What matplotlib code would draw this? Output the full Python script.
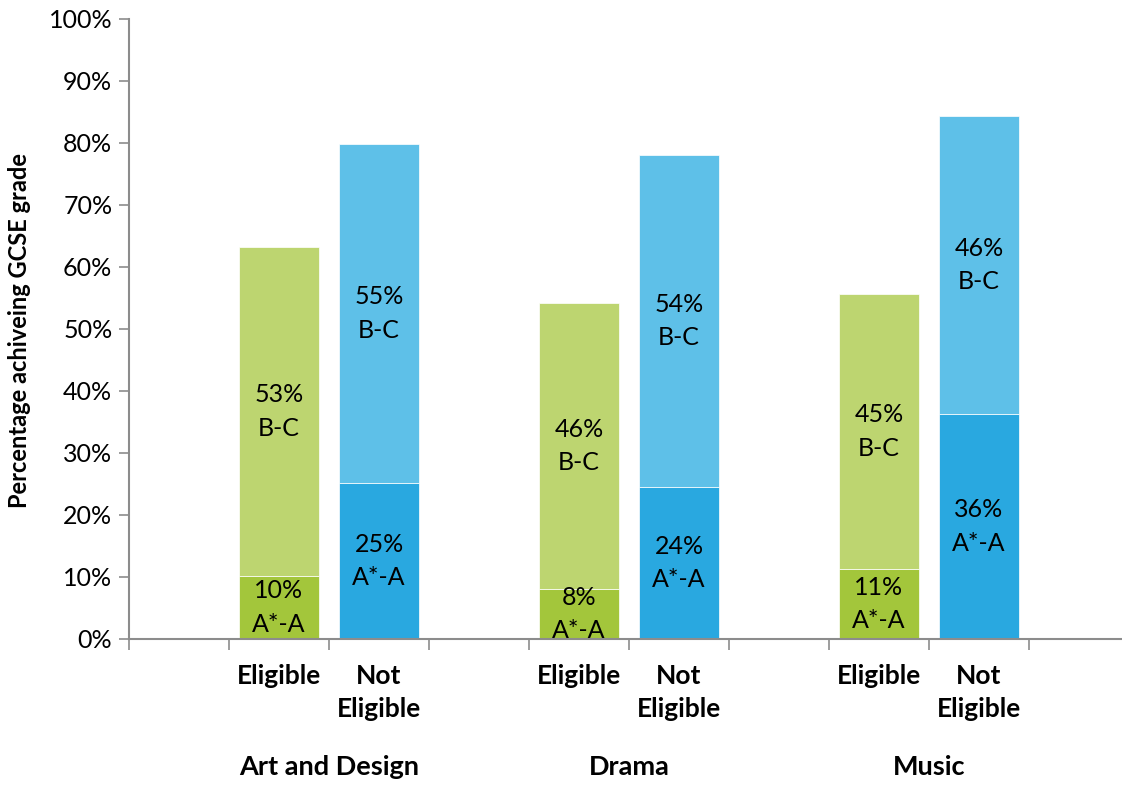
import matplotlib
matplotlib.use("Agg")
import matplotlib.pyplot as plt
from matplotlib.ticker import FixedLocator, PercentFormatter
from matplotlib.transforms import blended_transform_factory

plt.rcParams['font.family'] = ['Lato', 'DejaVu Sans']

subjects = ["Art and Design", "Drama", "Music"]
groups = ["Eligible", "Not\nEligible"]
# values (percent) as drawn: A*-A segment and B-C segment
a_star_a = [10.2, 25.2, 8.1, 24.5, 11.3, 36.3]
b_to_c = [53.0, 54.6, 46.1, 53.6, 44.3, 48.1]
a_labels = ["10%", "25%", "8%", "24%", "11%", "36%"]
b_labels = ["53%", "55%", "46%", "54%", "45%", "46%"]
positions = [1, 2, 4, 5, 7, 8]
subject_centers = [1.5, 4.5, 7.5]

dark_cols = ["#A3C63B", "#29A8E0", "#A3C63B", "#29A8E0", "#A3C63B", "#29A8E0"]
light_cols = ["#BDD570", "#5EC0E8", "#BDD570", "#5EC0E8", "#BDD570", "#5EC0E8"]

fig = plt.figure(figsize=(11.22, 7.85), dpi=100)
ax = fig.add_axes([129/1122, 146/785, 1000/1122, 620/785])

ax.bar(positions, a_star_a, width=0.8, color=dark_cols, edgecolor='white', linewidth=0.5)
ax.bar(positions, b_to_c, width=0.8, bottom=a_star_a, color=light_cols, edgecolor='white', linewidth=0.5)

fs = 18
for x, a, b, al, bl in zip(positions, a_star_a, b_to_c, a_labels, b_labels):
    ax.text(x, a / 2, al + "\nA*-A", ha='center', va='center', fontsize=fs, linespacing=1.55, color='black')
    ax.text(x, a + b / 2, bl + "\nB-C", ha='center', va='center', fontsize=fs, linespacing=1.55, color='black')

ax.set_xlim(-0.5, 9.5)
ax.set_ylim(0, 100)
ax.yaxis.set_major_locator(FixedLocator(range(0, 101, 10)))
ax.yaxis.set_major_formatter(PercentFormatter(decimals=0))
ax.tick_params(axis='y', labelsize=18, length=7, width=1.2, color='#8C8C8C', pad=5)

ax.set_xticks([])
ax.xaxis.set_minor_locator(FixedLocator([i - 0.5 for i in range(10)]))
ax.tick_params(axis='x', which='minor', length=8, width=1.2, color='#8C8C8C')

for s in ['top', 'right']:
    ax.spines[s].set_visible(False)
for s in ['left', 'bottom']:
    ax.spines[s].set_color('#8C8C8C')
    ax.spines[s].set_linewidth(1.5)

trans = blended_transform_factory(ax.transData, ax.transAxes)
for i, x in enumerate(positions):
    ax.annotate(groups[i % 2], xy=(x, 0), xycoords=trans, xytext=(0, -25),
                textcoords='offset pixels', ha='center', va='top',
                fontsize=19, fontweight='bold', linespacing=1.45)
for x, s in zip(subject_centers, subjects):
    ax.annotate(s, xy=(x, 0), xycoords=trans, xytext=(0, -128),
                textcoords='offset pixels', ha='center', va='center',
                fontsize=19.5, fontweight='bold')

fig.text(20/1122, 1 - 331/785, "Percentage achiveing GCSE grade", rotation=90,
         ha='center', va='center', fontsize=17, fontweight='bold')

fig.savefig("out.png", dpi=100)
